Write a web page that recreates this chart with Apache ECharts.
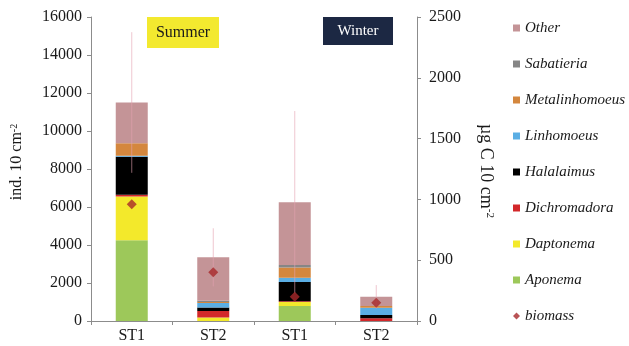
<!DOCTYPE html>
<html>
<head>
<meta charset="utf-8">
<script src="https://cdn.jsdelivr.net/npm/echarts@6/dist/echarts.min.js"></script>
<style>
  html, body { margin: 0; padding: 0; background: #fff; }
  #chart { width: 629px; height: 346px; }
</style>
</head>
<body>
<div id="chart"></div>
<script>
// Stations (summer pair, then winter pair)
const categories = ['ST1', 'ST2', 'ST1', 'ST2'];

// Nematode density by genus (ind. 10 cm-2), stacked bottom to top
const aponema        = [4250,    0,  790,   0];
const daptonema      = [2300,  180,  210,   0];
const dichromadora   = [ 100,  350,   40, 140];
const halalaimus     = [2000,  180, 1010, 175];
const linhomoeus     = [  50,  240,  230, 385];
const metalinhomoeus = [ 650,   50,  540,  90];
const sabatieria     = [   0,   60,  130,   0];
const other          = [2150, 2290, 3300, 480];

// Standard deviation of total density
const totalSd = [3700, 1530, 4800, 620];

// Biomass (µg C 10 cm-2)
const biomass = [960, 400, 200, 150];

// Axis ticks
const leftTicks = { min: 0, max: 16000, interval: 2000 };
const rightTicks = { min: 0, max: 2500, interval: 500 };

const FONT = 'Liberation Serif';

const stackDefs = [
  { name: 'Aponema',        data: aponema,        color: '#9dc85a' },
  { name: 'Daptonema',      data: daptonema,      color: '#f3e92b' },
  { name: 'Dichromadora',   data: dichromadora,   color: '#d3282a' },
  { name: 'Halalaimus',     data: halalaimus,     color: '#000000' },
  { name: 'Linhomoeus',     data: linhomoeus,     color: '#5aaee4' },
  { name: 'Metalinhomoeus', data: metalinhomoeus, color: '#d4873e' },
  { name: 'Sabatieria',     data: sabatieria,     color: '#868686' },
  { name: 'Other',          data: other,          color: '#c49497' }
];

const totals = categories.map((_, i) => stackDefs.reduce((s, d) => s + d.data[i], 0));
const errData = categories.map((_, i) => [i, totals[i], totalSd[i]]);

const barSeries = stackDefs.map(d => ({
  name: d.name,
  type: 'bar',
  stack: 'density',
  barWidth: 32,
  data: d.data,
  itemStyle: { color: d.color },
  emphasis: { disabled: true }
}));

const plain = v => String(v);

const chart = echarts.init(document.getElementById('chart'), null, { renderer: 'canvas' });

chart.setOption({
  animation: false,
  backgroundColor: '#fff',
  grid: { left: 91, right: 212, top: 17, bottom: 25, containLabel: false },
  xAxis: {
    type: 'category',
    data: categories,
    axisLine: { lineStyle: { color: '#8c8c8c', width: 1 } },
    axisTick: { show: true, length: 4, lineStyle: { color: '#8c8c8c' } },
    axisLabel: { color: '#1a1a1a', fontFamily: FONT, fontSize: 16, margin: 7 }
  },
  yAxis: [
    {
      type: 'value',
      min: leftTicks.min, max: leftTicks.max, interval: leftTicks.interval,
      axisLine: { show: true, lineStyle: { color: '#8c8c8c', width: 1 } },
      axisTick: { show: true, length: 4, lineStyle: { color: '#8c8c8c' } },
      splitLine: { show: false },
      axisLabel: { color: '#1a1a1a', fontFamily: FONT, fontSize: 16, margin: 9, formatter: plain }
    },
    {
      type: 'value',
      position: 'right',
      min: rightTicks.min, max: rightTicks.max, interval: rightTicks.interval,
      axisLine: { show: true, lineStyle: { color: '#8c8c8c', width: 1 } },
      axisTick: { show: true, length: 4, lineStyle: { color: '#8c8c8c' } },
      splitLine: { show: false },
      axisLabel: { color: '#1a1a1a', fontFamily: FONT, fontSize: 16, margin: 12, formatter: plain }
    }
  ],
  legend: {
    orient: 'vertical',
    left: 513,
    top: 20,
    itemWidth: 7,
    itemHeight: 7,
    itemGap: 20,
    padding: 0,
    selectedMode: false,
    data: [
      { name: 'Other', icon: 'rect' },
      { name: 'Sabatieria', icon: 'rect' },
      { name: 'Metalinhomoeus', icon: 'rect' },
      { name: 'Linhomoeus', icon: 'rect' },
      { name: 'Halalaimus', icon: 'rect' },
      { name: 'Dichromadora', icon: 'rect' },
      { name: 'Daptonema', icon: 'rect' },
      { name: 'Aponema', icon: 'rect' },
      { name: 'biomass', icon: 'diamond' }
    ],
    textStyle: {
      fontFamily: FONT, fontStyle: 'italic', fontSize: 15, lineHeight: 16, color: '#1a1a1a'
    }
  },
  series: barSeries.concat([
    {
      name: 'sd',
      type: 'custom',
      data: errData,
      z: 5,
      encode: { x: 0, y: 1 },
      renderItem: function (params, api) {
        const idx = api.value(0);
        const tot = api.value(1);
        const sd = api.value(2);
        const hi = api.coord([idx, tot + sd]);
        const lo = api.coord([idx, tot - sd]);
        return {
          type: 'line',
          shape: { x1: hi[0], y1: hi[1], x2: lo[0], y2: lo[1] },
          style: { stroke: 'rgba(228,160,176,0.6)', lineWidth: 1 }
        };
      }
    },
    {
      name: 'biomass',
      type: 'scatter',
      yAxisIndex: 1,
      symbol: 'diamond',
      symbolSize: 10,
      z: 10,
      data: biomass,
      itemStyle: { color: '#a8282a' }
    }
  ]),
  graphic: [
    {
      type: 'text',
      x: 17, y: 162,
      rotation: Math.PI / 2,
      style: {
        text: '{a|ind. 10 cm}{b|-2}',
        rich: {
          a: { fontFamily: FONT, fontSize: 16, fill: '#1a1a1a' },
          b: { fontFamily: FONT, fontSize: 10, fill: '#1a1a1a', verticalAlign: 'top' }
        },
        align: 'center',
        verticalAlign: 'middle'
      }
    },
    {
      type: 'text',
      x: 486, y: 171,
      rotation: -Math.PI / 2,
      style: {
        text: '{a|µg C 10 cm}{b|-2}',
        rich: {
          a: { fontFamily: FONT, fontSize: 18, fill: '#1a1a1a' },
          b: { fontFamily: FONT, fontSize: 11, fill: '#1a1a1a', verticalAlign: 'top' }
        },
        align: 'center',
        verticalAlign: 'middle'
      }
    },
    {
      type: 'rect',
      shape: { x: 147, y: 17, width: 72, height: 31 },
      style: { fill: '#f3e92f' }
    },
    {
      type: 'text',
      x: 183, y: 33,
      style: {
        text: 'Summer', fontFamily: FONT, fontSize: 16, fill: '#1a1a1a',
        align: 'center', verticalAlign: 'middle'
      }
    },
    {
      type: 'rect',
      shape: { x: 323, y: 17, width: 70, height: 28 },
      style: { fill: '#1c2843' }
    },
    {
      type: 'text',
      x: 358, y: 31,
      style: {
        text: 'Winter', fontFamily: FONT, fontSize: 15, fill: '#ffffff',
        align: 'center', verticalAlign: 'middle'
      }
    }
  ]
});
</script>
</body>
</html>
